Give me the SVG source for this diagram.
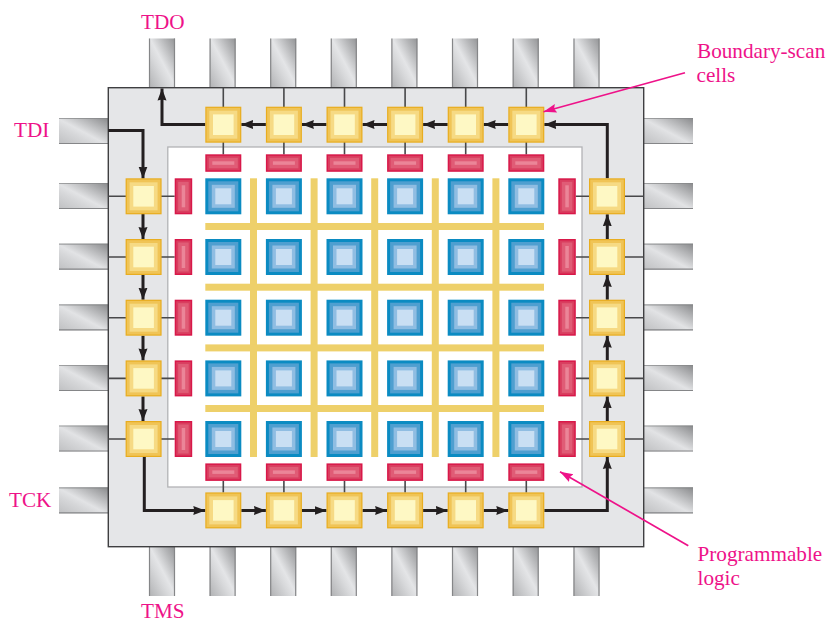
<svg xmlns="http://www.w3.org/2000/svg" xmlns:xlink="http://www.w3.org/1999/xlink" width="826" height="623" viewBox="0 0 826 623">
<style>
text{font-family:"Liberation Serif","Times New Roman",serif;font-size:21.2px;fill:#ee1289}
.thin{fill:none;stroke:#48484a;stroke-width:1.6}
.scan{fill:none;stroke:#231f20;stroke-width:3;marker-end:url(#ah)}
.call{fill:none;stroke:#ee1289;stroke-width:1.7;marker-end:url(#ap)}
.edge{stroke:#858688;stroke-width:1.2;fill:none}
</style>
<defs>
<linearGradient id="gv" x1="1" y1="0" x2="0" y2="1"><stop offset="0" stop-color="#939496"/><stop offset=".22" stop-color="#b6b7b9"/><stop offset=".48" stop-color="#e4e5e7"/><stop offset=".62" stop-color="#d8d9db"/><stop offset="1" stop-color="#b0b1b3"/></linearGradient>
<linearGradient id="gh" x1="1" y1="0" x2="0" y2="1"><stop offset="0" stop-color="#88898b"/><stop offset=".3" stop-color="#bcbdbf"/><stop offset=".52" stop-color="#e2e3e5"/><stop offset=".66" stop-color="#d6d7d9"/><stop offset="1" stop-color="#bfc0c2"/></linearGradient>
<marker id="ah" markerUnits="userSpaceOnUse" markerWidth="13" markerHeight="11" refX="12" refY="5.5" orient="auto"><path d="M0 1 L12 5.5 L0 10 L1 5.5Z" fill="#231f20"/></marker>
<marker id="ap" markerUnits="userSpaceOnUse" markerWidth="14" markerHeight="11" refX="13" refY="5.5" orient="auto"><path d="M0 1 L13 5.5 L0 10 L2 5.5Z" fill="#ee1289"/></marker>
<g id="pv"><rect width="26" height="49" fill="url(#gv)"/><path class="edge" d="M.5 0V49M25.5 0V49"/></g>
<g id="ph"><rect width="49" height="26" fill="url(#gh)"/><path class="edge" d="M0 .5H49" stroke-opacity=".7"/><path class="edge" d="M0 25.5H49"/></g>
<g id="cell"><rect width="36" height="36" fill="#e8ad20"/><rect x="1.2" y="1.2" width="33.6" height="33.6" fill="#f0c456"/><rect x="4" y="4" width="28" height="28" fill="#f6da84"/><rect x="7.7" y="7.7" width="20.6" height="20.6" fill="#fef8c4"/></g>
<g id="blue"><rect width="36" height="36" fill="#0b8bc2"/><rect x="3" y="3" width="30" height="30" fill="#4f9fd0"/><rect x="6.5" y="6.5" width="23" height="23" fill="#8fbde2"/><rect x="10" y="10" width="16" height="16" fill="#c9dff3"/></g>
<g id="rh"><rect width="36" height="17.5" fill="#d81849"/><rect x="1.5" y="1.5" width="33" height="14.5" fill="#d93e5f"/><rect x="3.5" y="3.5" width="29" height="10.5" fill="#e05c76"/><rect x="7" y="7" width="22" height="3.5" fill="#eb8598"/></g>
<g id="rv"><rect width="17.5" height="36" fill="#d81849"/><rect x="1.5" y="1.5" width="14.5" height="33" fill="#d93e5f"/><rect x="3.5" y="3.5" width="10.5" height="29" fill="#e05c76"/><rect x="7" y="7" width="3.5" height="22" fill="#eb8598"/></g>
</defs>
<rect width="826" height="623" fill="#fff"/>
<g id="pins">
<use href="#pv" x="149" y="38.5"/><use href="#pv" x="209.6" y="38.5"/><use href="#pv" x="270.2" y="38.5"/><use href="#pv" x="330.8" y="38.5"/><use href="#pv" x="391.4" y="38.5"/><use href="#pv" x="452" y="38.5"/><use href="#pv" x="512.7" y="38.5"/><use href="#pv" x="573.5" y="38.5"/>
<use href="#pv" x="149" y="547"/><use href="#pv" x="209.6" y="547"/><use href="#pv" x="270.2" y="547"/><use href="#pv" x="330.8" y="547"/><use href="#pv" x="391.4" y="547"/><use href="#pv" x="452" y="547"/><use href="#pv" x="512.7" y="547"/><use href="#pv" x="573.5" y="547"/>
<use href="#ph" x="59" y="118"/><use href="#ph" x="59" y="183"/><use href="#ph" x="59" y="243.7"/><use href="#ph" x="59" y="304.4"/><use href="#ph" x="59" y="365"/><use href="#ph" x="59" y="425.5"/><use href="#ph" x="59" y="487.3"/>
<use href="#ph" x="644" y="118"/><use href="#ph" x="644" y="183"/><use href="#ph" x="644" y="243.7"/><use href="#ph" x="644" y="304.4"/><use href="#ph" x="644" y="365"/><use href="#ph" x="644" y="425.5"/><use href="#ph" x="644" y="487.3"/>
</g>
<g id="chip"><rect x="108.3" y="87.7" width="535.4" height="459" fill="#e5e6e8" stroke="#3f3f41" stroke-width="1.4"/></g>
<g id="logic-area"><rect x="167.8" y="147" width="414.2" height="340" fill="#fff" stroke="#b2b3b5" stroke-width="1.3"/></g>
<g id="routing" fill="#eed06a">
<rect x="250" y="178.3" width="7" height="278.7"/><rect x="310.6" y="178.3" width="7" height="278.7"/><rect x="371.2" y="178.3" width="7" height="278.7"/><rect x="431.8" y="178.3" width="7" height="278.7"/><rect x="492.4" y="178.3" width="7" height="278.7"/>
<rect x="205.3" y="223" width="338.7" height="7"/><rect x="205.3" y="283.7" width="338.7" height="7"/><rect x="205.3" y="344.4" width="338.7" height="7"/><rect x="205.3" y="405" width="338.7" height="7"/>
</g>
<g id="connectors">
<path class="thin" d="M223.3 87.7V154.5M283.9 87.7V154.5M344.5 87.7V154.5M405.1 87.7V154.5M465.7 87.7V154.5M526.3 87.7V154.5"/>
<path class="thin" d="M223.3 481V492.5M283.9 481V492.5M344.5 481V492.5M405.1 481V492.5M465.7 481V492.5M526.3 481V492.5"/>
<path class="thin" d="M108.3 196.3H174.7M108.3 257H174.7M108.3 317.7H174.7M108.3 378.4H174.7M108.3 439H174.7"/>
<path class="thin" d="M575.7 196.3H643.7M575.7 257H643.7M575.7 317.7H643.7M575.7 378.4H643.7M575.7 439H643.7"/>
<path class="scan" d="M108.3 130.6H143V178.5"/>
<path class="scan" d="M143 214V239"/><path class="scan" d="M143 275V299.7"/><path class="scan" d="M143 335.7V360.4"/><path class="scan" d="M143 396.4V421"/>
<path class="scan" d="M144.3 457V510.5H205.3"/>
<path class="scan" d="M241.3 510.5H265.9"/><path class="scan" d="M301.9 510.5H326.5"/><path class="scan" d="M362.5 510.5H387.1"/><path class="scan" d="M423.1 510.5H447.7"/><path class="scan" d="M483.7 510.5H508.3"/>
<path class="scan" d="M544.3 510.5H607.3V457"/>
<path class="scan" d="M607.3 421V396.4"/><path class="scan" d="M607.3 360.4V335.7"/><path class="scan" d="M607.3 299.7V275"/><path class="scan" d="M607.3 239V214.3"/>
<path class="scan" d="M607.3 178.3V124.5H544.3"/>
<path class="scan" d="M508.3 124.5H483.7"/><path class="scan" d="M447.7 124.5H423.1"/><path class="scan" d="M387.1 124.5H362.5"/><path class="scan" d="M326.5 124.5H301.9"/><path class="scan" d="M265.9 124.5H241.3"/>
<path class="scan" d="M205.3 124.5H162V88.5"/>
</g>
<g id="scan-cells-top">
<g id="ct1"><use href="#cell" x="205.3" y="106.7"/></g><g id="ct2"><use href="#cell" x="265.9" y="106.7"/></g><g id="ct3"><use href="#cell" x="326.5" y="106.7"/></g><g id="ct4"><use href="#cell" x="387.1" y="106.7"/></g><g id="ct5"><use href="#cell" x="447.7" y="106.7"/></g><g id="ct6"><use href="#cell" x="508.3" y="106.7"/></g>
</g>
<g id="scan-cells-bottom">
<g id="cb1"><use href="#cell" x="205.3" y="492.4"/></g><g id="cb2"><use href="#cell" x="265.9" y="492.4"/></g><g id="cb3"><use href="#cell" x="326.5" y="492.4"/></g><g id="cb4"><use href="#cell" x="387.1" y="492.4"/></g><g id="cb5"><use href="#cell" x="447.7" y="492.4"/></g><g id="cb6"><use href="#cell" x="508.3" y="492.4"/></g>
</g>
<g id="scan-cells-left">
<g id="cl1"><use href="#cell" x="125.6" y="178.3"/></g><g id="cl2"><use href="#cell" x="125.6" y="239"/></g><g id="cl3"><use href="#cell" x="125.6" y="299.7"/></g><g id="cl4"><use href="#cell" x="125.6" y="360.4"/></g><g id="cl5"><use href="#cell" x="125.6" y="421"/></g>
</g>
<g id="scan-cells-right">
<g id="cr1"><use href="#cell" x="589" y="178.3"/></g><g id="cr2"><use href="#cell" x="589" y="239"/></g><g id="cr3"><use href="#cell" x="589" y="299.7"/></g><g id="cr4"><use href="#cell" x="589" y="360.4"/></g><g id="cr5"><use href="#cell" x="589" y="421"/></g>
</g>
<g id="red-cells">
<use href="#rh" x="205.3" y="154.3"/><use href="#rh" x="265.9" y="154.3"/><use href="#rh" x="326.5" y="154.3"/><use href="#rh" x="387.1" y="154.3"/><use href="#rh" x="447.7" y="154.3"/><use href="#rh" x="508.3" y="154.3"/>
<use href="#rh" x="205.3" y="463.4"/><use href="#rh" x="265.9" y="463.4"/><use href="#rh" x="326.5" y="463.4"/><use href="#rh" x="387.1" y="463.4"/><use href="#rh" x="447.7" y="463.4"/><use href="#rh" x="508.3" y="463.4"/>
<use href="#rv" x="174.7" y="178.3"/><use href="#rv" x="174.7" y="239"/><use href="#rv" x="174.7" y="299.7"/><use href="#rv" x="174.7" y="360.4"/><use href="#rv" x="174.7" y="421"/>
<use href="#rv" x="558.3" y="178.3"/><use href="#rv" x="558.3" y="239"/><use href="#rv" x="558.3" y="299.7"/><use href="#rv" x="558.3" y="360.4"/><use href="#rv" x="558.3" y="421"/>
</g>
<g id="logic-blocks">
<use href="#blue" x="205.3" y="178.3"/><use href="#blue" x="265.9" y="178.3"/><use href="#blue" x="326.5" y="178.3"/><use href="#blue" x="387.1" y="178.3"/><use href="#blue" x="447.7" y="178.3"/><use href="#blue" x="508.3" y="178.3"/>
<use href="#blue" x="205.3" y="239"/><use href="#blue" x="265.9" y="239"/><use href="#blue" x="326.5" y="239"/><use href="#blue" x="387.1" y="239"/><use href="#blue" x="447.7" y="239"/><use href="#blue" x="508.3" y="239"/>
<use href="#blue" x="205.3" y="299.7"/><use href="#blue" x="265.9" y="299.7"/><use href="#blue" x="326.5" y="299.7"/><use href="#blue" x="387.1" y="299.7"/><use href="#blue" x="447.7" y="299.7"/><use href="#blue" x="508.3" y="299.7"/>
<use href="#blue" x="205.3" y="360.4"/><use href="#blue" x="265.9" y="360.4"/><use href="#blue" x="326.5" y="360.4"/><use href="#blue" x="387.1" y="360.4"/><use href="#blue" x="447.7" y="360.4"/><use href="#blue" x="508.3" y="360.4"/>
<use href="#blue" x="205.3" y="421"/><use href="#blue" x="265.9" y="421"/><use href="#blue" x="326.5" y="421"/><use href="#blue" x="387.1" y="421"/><use href="#blue" x="447.7" y="421"/><use href="#blue" x="508.3" y="421"/>
</g>
<g id="callouts">
<path class="call" d="M685 72.7L543.5 111.7"/>
<path class="call" d="M688.3 545.7L560 471.7"/>
</g>
<g id="labels">
<text x="141" y="28.5">TDO</text>
<text x="14" y="137">TDI</text>
<text x="9" y="507">TCK</text>
<text x="141" y="618.3">TMS</text>
<text x="697" y="58">Boundary-scan</text>
<text x="696.5" y="82">cells</text>
<text x="697.5" y="561">Programmable</text>
<text x="697.5" y="584.5">logic</text>
</g>
</svg>
